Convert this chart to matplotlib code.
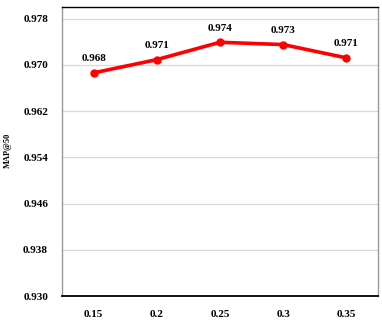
import matplotlib
matplotlib.use("Agg")
import matplotlib.pyplot as plt

categories = ["0.15", "0.2", "0.25", "0.3", "0.35"]
map50 = [0.9686, 0.9709, 0.9739, 0.9735, 0.9712]
point_labels = ["0.968", "0.971", "0.974", "0.973", "0.971"]
yticks = [0.930, 0.938, 0.946, 0.954, 0.962, 0.970, 0.978]

plt.rcParams['font.family'] = ['Liberation Serif', 'DejaVu Serif']
plt.rcParams['font.weight'] = 'bold'

fig = plt.figure(figsize=(3.82, 3.24), dpi=100)
ax = fig.add_axes([62/382, 1-296/324, 316/382, 289/324])

x = list(range(len(categories)))
ax.plot(x, map50, color='#ff0000', lw=2.6, marker='o', ms=5, zorder=3)
for xi, yi, lab in zip(x, map50, point_labels):
    ax.annotate(lab, (xi, yi), xytext=(0, 7), textcoords='offset points',
                ha='center', va='bottom', fontsize=8, fontweight='bold')

ax.set_xlim(-0.5, len(categories) - 0.5)
ax.set_ylim(0.930, 0.980)
ax.set_yticks(yticks)
ax.set_yticklabels([f"{v:.3f}" for v in yticks])
ax.set_xticks(x)
ax.set_xticklabels(categories)
ax.tick_params(axis='both', length=0, labelsize=8, pad=10)
for lab in ax.get_xticklabels() + ax.get_yticklabels():
    lab.set_fontweight('bold')
ax.grid(axis='y', color='#d9d9d9', lw=0.9)
ax.set_axisbelow(True)

ax.spines['top'].set_color('black')
ax.spines['bottom'].set_color('black')
ax.spines['left'].set_color('#999999')
ax.spines['right'].set_color('#999999')
for s in ax.spines.values():
    s.set_linewidth(1.0)
ax.spines['bottom'].set_linewidth(1.3)

fig.text(8/382, 1-150/324, "MAP@50", rotation=90, ha='center', va='center',
         fontsize=6, fontweight='bold')

fig.savefig("out.png", dpi=100)
